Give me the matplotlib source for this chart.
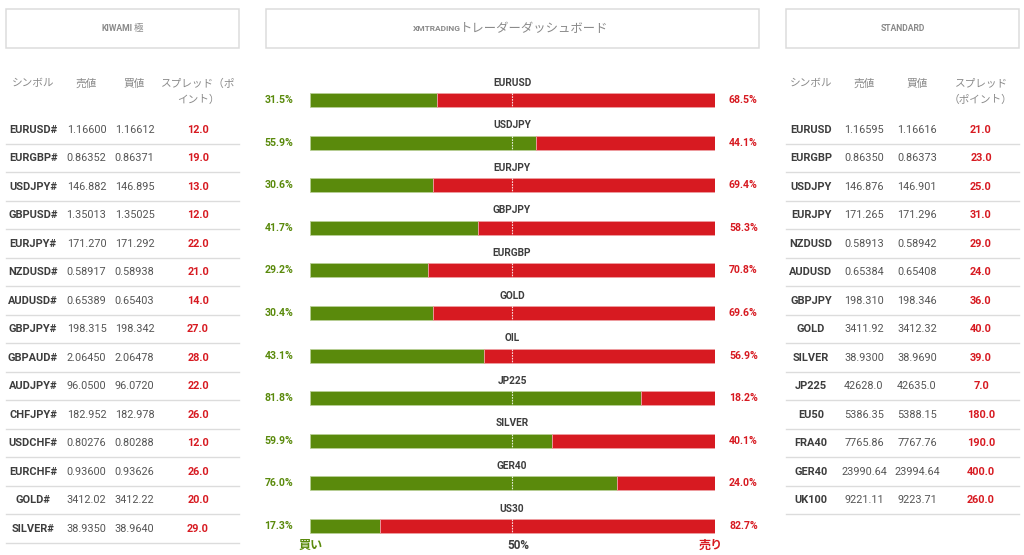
import matplotlib
matplotlib.use("Agg")
import matplotlib.pyplot as plt
from matplotlib.patches import Rectangle

# Dashboard data
pairs = ["EURUSD", "USDJPY", "EURJPY", "GBPJPY", "EURGBP", "GOLD", "OIL", "JP225", "SILVER", "GER40", "US30"]
buy = [31.5, 55.9, 30.6, 41.7, 29.2, 30.4, 43.1, 81.8, 59.9, 76.0, 17.3]
sell = [68.5, 44.1, 69.4, 58.3, 70.8, 69.6, 56.9, 18.2, 40.1, 24.0, 82.7]

kiwami_symbols = ["EURUSD#", "EURGBP#", "USDJPY#", "GBPUSD#", "EURJPY#", "NZDUSD#", "AUDUSD#", "GBPJPY#",
                  "GBPAUD#", "AUDJPY#", "CHFJPY#", "USDCHF#", "EURCHF#", "GOLD#", "SILVER#"]
kiwami_bid = ["1.16600", "0.86352", "146.882", "1.35013", "171.270", "0.58917", "0.65389", "198.315",
              "2.06450", "96.0500", "182.952", "0.80276", "0.93600", "3412.02", "38.9350"]
kiwami_ask = ["1.16612", "0.86371", "146.895", "1.35025", "171.292", "0.58938", "0.65403", "198.342",
              "2.06478", "96.0720", "182.978", "0.80288", "0.93626", "3412.22", "38.9640"]
kiwami_spread = ["12.0", "19.0", "13.0", "12.0", "22.0", "21.0", "14.0", "27.0",
                 "28.0", "22.0", "26.0", "12.0", "26.0", "20.0", "29.0"]

std_symbols = ["EURUSD", "EURGBP", "USDJPY", "EURJPY", "NZDUSD", "AUDUSD", "GBPJPY", "GOLD",
               "SILVER", "JP225", "EU50", "FRA40", "GER40", "UK100"]
std_bid = ["1.16595", "0.86350", "146.876", "171.265", "0.58913", "0.65384", "198.310", "3411.92",
           "38.9300", "42628.0", "5386.35", "7765.86", "23990.64", "9221.11"]
std_ask = ["1.16616", "0.86373", "146.901", "171.296", "0.58942", "0.65408", "198.346", "3412.32",
           "38.9690", "42635.0", "5388.15", "7767.76", "23994.64", "9223.71"]
std_spread = ["21.0", "23.0", "25.0", "31.0", "29.0", "24.0", "36.0", "40.0",
              "39.0", "7.0", "180.0", "190.0", "400.0", "260.0"]

GREEN = "#5a8a0c"
RED = "#d71a21"
DARK = "#3d3d3d"
GREY = "#8a8a8a"
LINE = "#dcdcdc"

BODY = ["Roboto", "Noto Sans CJK JP", "DejaVu Sans"]
CJK = ["Noto Sans CJK JP", "DejaVu Sans"]

W, H = 1024, 555
fig = plt.figure(figsize=(W / 100, H / 100), dpi=100, facecolor="white")

# overlay in pixel coordinates for boxes and table text
bg = fig.add_axes([0, 0, 1, 1])
bg.set_xlim(0, W)
bg.set_ylim(H, 0)
bg.axis("off")


def title_box(x0, x1, parts):
    bg.add_patch(Rectangle((x0, 8.5), x1 - x0, 39, fill=False, edgecolor=LINE, linewidth=1.1))
    for txt, fam, size, px, weight in parts:
        bg.text(px, 28.5, txt, family=fam, fontsize=size, color=GREY, ha="center", va="center", fontweight=weight)


def draw_table(x0, x1, cols, header1, header2, symbols, bid, ask, spread):
    for c, h in zip(cols, header1):
        bg.text(c, 83.5, h, family=CJK, fontsize=7.7, color=GREY, ha="center", va="center")
    bg.text(cols[3], 99.5, header2, family=CJK, fontsize=7.7, color=GREY, ha="center", va="center")
    for i in range(len(symbols)):
        y = 130 + i * 28.47
        bg.text(cols[0], y, symbols[i], family=BODY, fontsize=7.9, fontweight="bold", color=DARK, ha="center", va="center")
        bg.text(cols[1], y, bid[i], family=BODY, fontsize=7.8, color="#555555", ha="center", va="center")
        bg.text(cols[2], y, ask[i], family=BODY, fontsize=7.8, color="#555555", ha="center", va="center")
        bg.text(cols[3], y, spread[i], family=BODY, fontsize=7.8, fontweight="bold", color=RED, ha="center", va="center")
        bg.plot([x0, x1], [y + 14, y + 14], color=LINE, linewidth=1)


title_box(5.5, 238.5, [("KIWAMI", BODY, 6.2, 117, "bold"), ("極", CJK, 6.8, 138.5, "normal")])
title_box(265.5, 758.5, [("XMTRADING", BODY, 6.0, 436.5, "bold"), ("トレーダーダッシュボード", CJK, 8.9, 534.5, "normal")])
title_box(785.5, 1019, [("STANDARD", BODY, 6.2, 902.5, "bold")])

draw_table(5.5, 238.5, [33, 86.5, 134.5, 198], ["シンボル", "売値", "買値", "スプレッド（ポ"], "イント）",
           kiwami_symbols, kiwami_bid, kiwami_ask, kiwami_spread)
draw_table(785.5, 1019, [811, 864, 917, 981], ["シンボル", "売値", "買値", "スプレッド"], "（ポイント）",
           std_symbols, std_bid, std_ask, std_spread)

# stacked bars in the middle, axes spans exactly 0-100 across the bar width
left, right = 309.5, 714.5
top, bottom = 78.7, 547.3
ax = fig.add_axes([left / W, 1 - bottom / H, (right - left) / W, (bottom - top) / H])
ax.patch.set_alpha(0)
ypos = list(range(len(pairs)))
ax.barh(ypos, buy, height=0.33, color=GREEN, edgecolor="#b9cf96", linewidth=0.6)
ax.barh(ypos, sell, left=buy, height=0.33, color=RED, edgecolor="#ee9ea2", linewidth=0.6)
ax.set_xlim(0, 100)
ax.set_ylim(len(pairs) - 0.5, -0.5)
ax.axis("off")

for i, p in enumerate(pairs):
    ax.plot([50, 50], [i - 0.165, i + 0.165], color="white", linewidth=0.8, linestyle=(0, (1.5, 1)), alpha=0.85)
    ax.text(50, i - 0.41, p, family=BODY, fontsize=7.3, fontweight="bold", color=DARK, ha="center", va="center")
    ax.text(-4.0, i, f"{buy[i]}%", family=BODY, fontsize=7.6, fontweight="bold", color=GREEN, ha="right", va="center")
    ax.text(110.7, i, f"{sell[i]}%", family=BODY, fontsize=7.6, fontweight="bold", color=RED, ha="right", va="center", clip_on=False)

bg.text(311, 545.5, "買い", family=CJK, fontsize=8.7, fontweight="bold", color=GREEN, ha="center", va="center")
bg.text(518, 545.5, "50%", family=BODY, fontsize=8.5, fontweight="bold", color=DARK, ha="center", va="center")
bg.text(711, 545.5, "売り", family=CJK, fontsize=8.7, fontweight="bold", color=RED, ha="center", va="center")

fig.savefig("out.png", dpi=100)
